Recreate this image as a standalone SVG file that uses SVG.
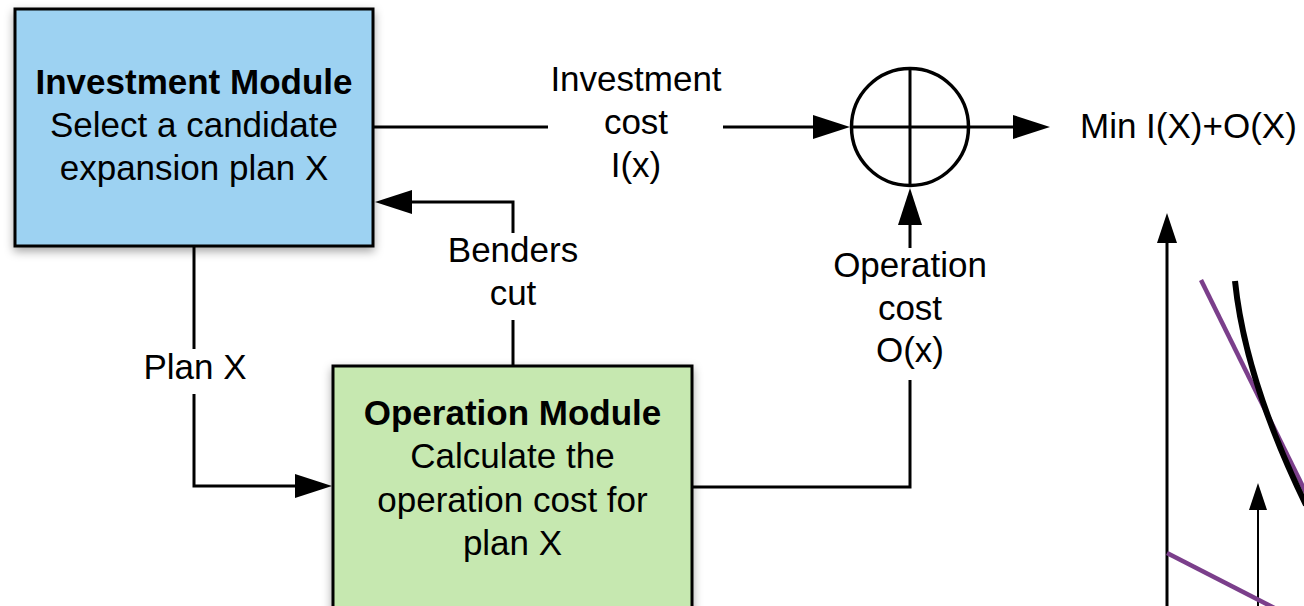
<svg xmlns="http://www.w3.org/2000/svg" width="1304" height="606" viewBox="0 0 1304 606">
  <style>
    .lbl { font-family: "Liberation Sans", Arial, sans-serif; font-size: 35px; fill: #000; text-anchor: middle; }
    .bold { font-weight: bold; }
    .box { stroke: #000; stroke-width: 3; }
    .conn { fill: none; stroke: #000; stroke-width: 3; }
    .thin { fill: none; stroke: #000; stroke-width: 2; }
    .purple { fill: none; stroke: #7b3f8b; stroke-width: 4.5; }
    .curve { fill: none; stroke: #000; stroke-width: 6; }
  </style>
  <defs>
    <filter id="shadow" x="-10%" y="-10%" width="120%" height="130%">
      <feDropShadow dx="0" dy="4" stdDeviation="5" flood-color="#000" flood-opacity="0.35"/>
    </filter>
    <marker id="arrow" markerUnits="userSpaceOnUse" markerWidth="38" markerHeight="26" refX="0" refY="12" orient="auto" overflow="visible">
      <path d="M0,0 L37,12 L0,24 z" fill="#000"/>
    </marker>
    <marker id="arrowAxis" markerUnits="userSpaceOnUse" markerWidth="31" markerHeight="22" refX="0" refY="10" orient="auto" overflow="visible">
      <path d="M0,0 L30,10 L0,20 z" fill="#000"/>
    </marker>
    <marker id="arrowSmall" markerUnits="userSpaceOnUse" markerWidth="28" markerHeight="20" refX="0" refY="9" orient="auto" overflow="visible">
      <path d="M0,0 L27,9 L0,18 z" fill="#000"/>
    </marker>
  </defs>
  <rect width="1304" height="606" fill="#fff"/>

  <g id="connectors">
    <path class="conn" d="M373,127 H548"/>
    <path class="conn" d="M723,127 H813" marker-end="url(#arrow)"/>
    <path class="conn" d="M970,127 H1013" marker-end="url(#arrow)"/>
    <path class="conn" d="M692,487 H910 V380"/>
    <path class="conn" d="M910,248 V225" marker-end="url(#arrow)"/>
    <path class="conn" d="M513,366 V320"/>
    <path class="conn" d="M513,233 V202 H412" marker-end="url(#arrow)"/>
    <path class="conn" d="M194,247 V349"/>
    <path class="conn" d="M194,394 V486 H295" marker-end="url(#arrow)"/>
  </g>

  <g id="investment-module">
    <rect class="box" x="15" y="9" width="358" height="237" fill="#9dd2f2" filter="url(#shadow)"/>
    <text class="lbl bold" x="194" y="94">Investment Module</text>
    <text class="lbl" x="194" y="137">Select a candidate</text>
    <text class="lbl" x="194" y="180">expansion plan X</text>
  </g>

  <g id="operation-module">
    <rect class="box" x="333" y="366" width="359" height="262" fill="#c6e8b0" filter="url(#shadow)"/>
    <text class="lbl bold" x="512.5" y="425">Operation Module</text>
    <text class="lbl" x="512.5" y="468">Calculate the</text>
    <text class="lbl" x="512.5" y="512">operation cost for</text>
    <text class="lbl" x="512.5" y="555">plan X</text>
  </g>

  <g id="summation">
    <circle cx="910" cy="127" r="58.5" fill="none" stroke="#000" stroke-width="3.5"/>
    <path class="conn" d="M910,68 V186 M851,127 H969"/>
  </g>

  <g id="label-investment-cost">
    <text class="lbl" x="636" y="91">Investment</text>
    <text class="lbl" x="636" y="134">cost</text>
    <text class="lbl" x="636" y="177">I(x)</text>
  </g>

  <g id="label-benders-cut">
    <text class="lbl" x="513" y="262">Benders</text>
    <text class="lbl" x="513" y="305">cut</text>
  </g>

  <g id="label-operation-cost">
    <text class="lbl" x="910" y="277">Operation</text>
    <text class="lbl" x="910" y="320">cost</text>
    <text class="lbl" x="910" y="362">O(x)</text>
  </g>

  <g id="label-plan-x">
    <text class="lbl" x="195" y="379">Plan X</text>
  </g>

  <g id="objective">
    <text class="lbl" x="1080" y="138" style="text-anchor:start">Min I(X)+O(X)</text>
  </g>

  <g id="plot">
    <path class="conn" d="M1167,606 V243" marker-end="url(#arrowAxis)"/>
    <path class="thin" d="M1258,606 V510" marker-end="url(#arrowSmall)"/>
    <path class="purple" d="M1201,280 L1310,501"/>
    <path class="purple" d="M1167,553 L1290,616"/>
    <path class="curve" d="M1235,281 C1240,330 1255,400 1306,505"/>
  </g>
</svg>
